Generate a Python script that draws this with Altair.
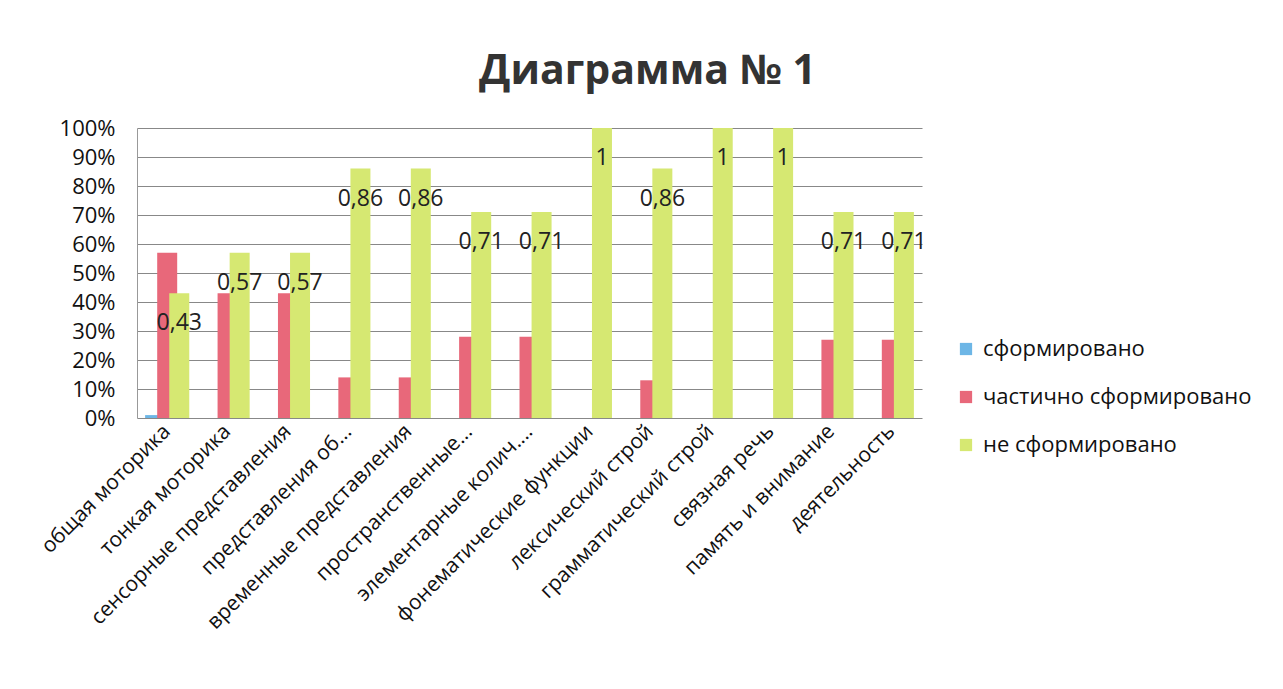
import altair as alt
import pandas as pd

categories = [
    "общая моторика", "тонкая моторика", "сенсорные представления",
    "представления об...", "временные представления", "пространственные...",
    "элементарные колич....", "фонематические функции", "лексический строй",
    "грамматический строй", "связная речь", "память и внимание", "деятельность",
]
series = ["сформировано", "частично сформировано", "не сформировано"]
formed = [0.01, 0, 0, 0, 0, 0, 0, 0, 0, 0, 0, 0, 0]
partial = [0.57, 0.43, 0.43, 0.14, 0.14, 0.28, 0.28, 0, 0.13, 0, 0, 0.27, 0.27]
not_formed = [0.43, 0.57, 0.57, 0.86, 0.86, 0.71, 0.71, 1, 0.86, 1, 1, 0.71, 0.71]
labels = ["0,43", "0,57", "0,57", "0,86", "0,86", "0,71", "0,71", "1", "0,86", "1", "1", "0,71", "0,71"]
ticks = [0, 0.1, 0.2, 0.3, 0.4, 0.5, 0.6, 0.7, 0.8, 0.9, 1.0]
colors = ["#6DB6E6", "#E8687A", "#D6E872"]

rows = []
for i, c in enumerate(categories):
    for s, vals in zip(series, [formed, partial, not_formed]):
        rows.append({"cat": c, "series": s, "value": vals[i],
                     "label": labels[i] if s == series[2] else ""})
df = pd.DataFrame(rows)

FONT = "Open Sans"
x = alt.X("cat:N", sort=categories, title=None,
          scale=alt.Scale(paddingInner=0.4, paddingOuter=0.2),
          axis=alt.Axis(labelAngle=-45, labelAlign="right", labelBaseline="middle",
                        labelFontSize=21, labelFont=FONT, labelColor="#111",
                        labelLimit=400, ticks=False, domain=False, labelPadding=10))
xo = alt.XOffset("series:N", sort=series, scale=alt.Scale(paddingInner=0, paddingOuter=0))
y = alt.Y("value:Q", title=None,
          scale=alt.Scale(domain=[0, 1], nice=False),
          axis=alt.Axis(format=".0%", values=ticks, labelOverlap=False,
                        labelFontSize=22, labelFont=FONT, labelColor="#111",
                        ticks=False, domain=True, domainColor="#999",
                        gridColor="#888", gridWidth=1.2, labelPadding=22))

bars = alt.Chart(df).mark_bar(size=20).encode(
    x=x, xOffset=xo, y=y,
    color=alt.Color("series:N", sort=series,
                    scale=alt.Scale(domain=series, range=colors),
                    legend=alt.Legend(title=None, orient="none", legendX=818, legendY=210,
                                      labelFontSize=22, labelFont=FONT, labelColor="#111",
                                      labelLimit=400,
                                      symbolType="square", symbolSize=150,
                                      symbolStrokeWidth=0, rowPadding=26,
                                      labelOffset=6)),
)

text = alt.Chart(df[df["series"] == series[2]]).mark_text(
    fontSize=23, font=FONT, color="#222", baseline="middle", dy=30
).encode(x=x, xOffset=xo, y=y, text="label:N")

chart = (bars + text).properties(
    width=785, height=290,
    title=alt.TitleParams("Диаграмма № 1", fontSize=41, fontWeight="bold", font=FONT,
                          color="#333", anchor="middle", dx=118, offset=24),
    autosize=alt.AutoSizeParams(type="none"),
    padding={"left": 129, "top": 120, "right": 350, "bottom": 250},
).configure_view(stroke=None)

chart.save("out.html", embed_options={"renderer": "svg", "actions": False})
